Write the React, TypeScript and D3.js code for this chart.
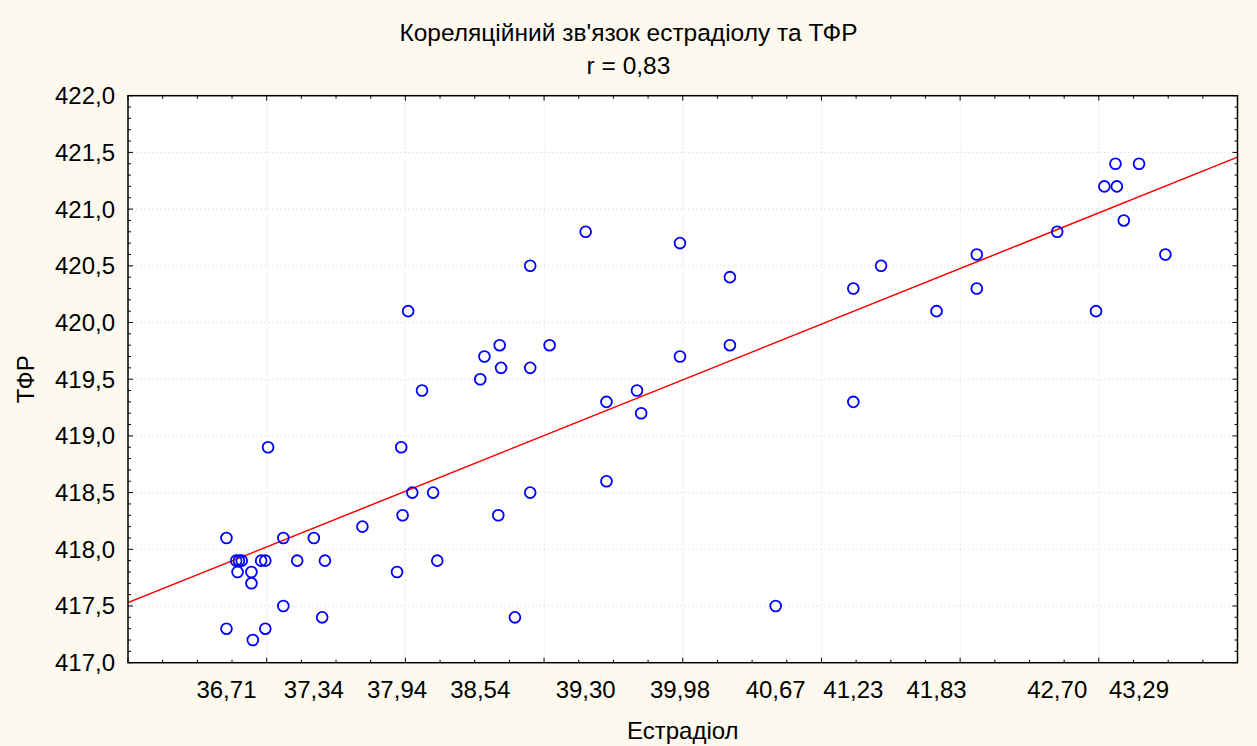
import React from 'react';
import * as d3 from 'd3';

const estradiol = [
  36.71, 36.71, 36.78, 36.80, 36.82, 36.79, 36.89, 36.89, 36.90, 36.96,
  36.99, 36.99, 37.01, 37.12, 37.12, 37.22, 37.34, 37.40, 37.42, 37.69,
  37.94, 37.97, 37.98, 38.02, 38.05, 38.12, 38.20, 38.23, 38.54, 38.57,
  38.67, 38.68, 38.69, 38.79, 38.90, 38.90, 38.90, 39.04, 39.30, 39.45,
  39.45, 39.67, 39.70, 39.98, 39.98, 40.34, 40.34, 40.67, 41.23, 41.23,
  41.43, 41.83, 42.12, 42.12, 42.70, 42.98, 43.04, 43.12, 43.13, 43.18,
  43.29, 43.48,
];
const tfr = [
  418.1, 417.3, 417.9, 417.9, 417.9, 417.8, 417.8, 417.7, 417.2, 417.9,
  417.9, 417.3, 418.9, 418.1, 417.5, 417.9, 418.1, 417.4, 417.9, 418.2,
  417.8, 418.9, 418.3, 420.1, 418.5, 419.4, 418.5, 417.9, 419.5, 419.7,
  418.3, 419.8, 419.6, 417.4, 420.5, 419.6, 418.5, 419.8, 420.8, 419.3,
  418.6, 419.4, 419.2, 420.7, 419.7, 420.4, 419.8, 417.5, 420.3, 419.3,
  420.5, 420.1, 420.6, 420.3, 420.8, 420.1, 421.2, 421.4, 421.2, 420.9,
  421.4, 420.6,
];

const xTickValues = [36.71, 37.34, 37.94, 38.54, 39.30, 39.98, 40.67, 41.23, 41.83, 42.70, 43.29];
const xTickLabels = ['36,71', '37,34', '37,94', '38,54', '39,30', '39,98', '40,67', '41,23', '41,83', '42,70', '43,29'];
const yTickValues = [417, 417.5, 418, 418.5, 419, 419.5, 420, 420.5, 421, 421.5, 422];
const yTickLabels = ['417,0', '417,5', '418,0', '418,5', '419,0', '419,5', '420,0', '420,5', '421,0', '421,5', '422,0'];

const xDomain = [36, 44];
const yDomain = [417, 422];
const fitIntercept = 417.53; // value at x = 36
const fitSlope = 0.491;

const titleText = "Кореляційний зв'язок естрадіолу та ТФР";
const subtitleText = 'r = 0,83';
const xTitle = 'Естрадіол';
const yTitle = 'ТФР';

export default function App() {
  const W = 1257, H = 746;
  const L = 128, R = 1237.5, T = 95.7, B = 662.7;
  const x = d3.scaleLinear().domain(xDomain).range([L, R]);
  const y = d3.scaleLinear().domain(yDomain).range([B, T]);
  const font = '"Liberation Sans", Arial, sans-serif';

  const xMajor = d3.range(xDomain[0], xDomain[1] + 0.001, 1);
  const xMinor = d3.range(xDomain[0], xDomain[1] + 0.001, 0.25).filter(v => Math.abs(v - Math.round(v)) > 0.01);
  const yMajor = d3.range(yDomain[0], yDomain[1] + 0.001, 0.5);
  const yMinor = d3.range(0, 51).map(i => yDomain[0] + i * 0.1).filter(v => Math.abs(v * 2 - Math.round(v * 2)) > 0.01);

  const fit = (v: number) => fitIntercept + fitSlope * (v - xDomain[0]);
  const line = d3.line<number>().x(v => x(v)).y(v => y(fit(v)));

  const majorLen = 5, minorLen = 3;

  return (
    <svg width={W} height={H} style={{ position: 'absolute', left: 0, top: 0, display: 'block' }} fontFamily={font}>
      <rect x={0} y={0} width={W} height={H} fill="#fdf9ee" />
      <rect x={L} y={T} width={R - L} height={B - T} fill="#ffffff" />
      <defs>
        <clipPath id="plotclip">
          <rect x={L} y={T} width={R - L} height={B - T} />
        </clipPath>
      </defs>
      {/* grid */}
      <g stroke="#d4d4d4" strokeWidth={1} strokeDasharray="1,3">
        {xMajor.slice(1, -1).map(v => (
          <line key={'gx' + v} x1={x(v)} x2={x(v)} y1={T} y2={B} />
        ))}
        {yMajor.slice(1, -1).map(v => (
          <line key={'gy' + v} x1={L} x2={R} y1={y(v)} y2={y(v)} />
        ))}
      </g>
      {/* regression line */}
      <path d={line(xDomain) || ''} stroke="#ff0000" strokeWidth={1.5} fill="none" clipPath="url(#plotclip)" />
      {/* points */}
      <g fill="none" stroke="#0000ff" strokeWidth={1.8}>
        {estradiol.map((v, i) => (
          <circle key={i} cx={x(v)} cy={y(tfr[i])} r={5.4} />
        ))}
      </g>
      {/* ticks */}
      <g stroke="#000" strokeWidth={1}>
        {xMajor.map(v => (
          <g key={'xt' + v}>
            <line x1={x(v)} x2={x(v)} y1={B} y2={B - majorLen} />
            <line x1={x(v)} x2={x(v)} y1={T} y2={T + majorLen} />
          </g>
        ))}
        {xMinor.map(v => (
          <g key={'xm' + v}>
            <line x1={x(v)} x2={x(v)} y1={B} y2={B - minorLen} />
            <line x1={x(v)} x2={x(v)} y1={T} y2={T + minorLen} />
          </g>
        ))}
        {yMajor.map(v => (
          <g key={'yt' + v}>
            <line x1={L} x2={L + majorLen} y1={y(v)} y2={y(v)} />
            <line x1={R} x2={R - majorLen} y1={y(v)} y2={y(v)} />
          </g>
        ))}
        {yMinor.map(v => (
          <g key={'ym' + v}>
            <line x1={L} x2={L + minorLen} y1={y(v)} y2={y(v)} />
            <line x1={R} x2={R - minorLen} y1={y(v)} y2={y(v)} />
          </g>
        ))}
      </g>
      {/* frame */}
      <rect x={L} y={T} width={R - L} height={B - T} fill="none" stroke="#000" strokeWidth={1.5} />
      {/* tick labels */}
      <g fontSize={24} fill="#000">
        {xTickValues.map((v, i) => (
          <text key={'xl' + i} x={x(v)} y={698} textAnchor="middle">{xTickLabels[i]}</text>
        ))}
        {yTickValues.map((v, i) => (
          <text key={'yl' + i} x={115} y={y(v)} dy="0.35em" textAnchor="end">{yTickLabels[i]}</text>
        ))}
      </g>
      {/* titles */}
      <text x={W / 2} y={41} textAnchor="middle" fontSize={24.5} fill="#000">{titleText}</text>
      <text x={W / 2} y={74} textAnchor="middle" fontSize={24.5} fill="#000">{subtitleText}</text>
      <text x={(L + R) / 2} y={739} textAnchor="middle" fontSize={24} fill="#000">{xTitle}</text>
      <text transform={`translate(34,${(T + B) / 2}) rotate(-90)`} textAnchor="middle" fontSize={24} fill="#000">{yTitle}</text>
    </svg>
  );
}
